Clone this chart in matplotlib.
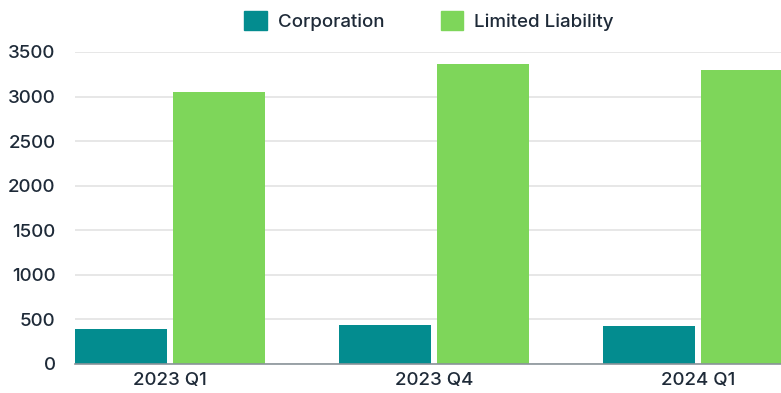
import numpy as np
import matplotlib.pyplot as plt
from matplotlib.patches import Patch

plt.rcParams['font.family'] = ['Inter', 'DejaVu Sans']
plt.rcParams['font.weight'] = 'medium'

quarters = ['2023 Q1', '2023 Q4', '2024 Q1']
corporation = [390, 440, 430]
limited_liability = [3050, 3360, 3300]

teal = '#038C8F'
green = '#7ED65A'
text_color = '#1E2A38'

fig = plt.figure(figsize=(7.81, 3.93), dpi=100)
ax = fig.add_axes([75 / 781, 29 / 393, 706 / 781, 312 / 393])

x = np.arange(len(quarters))
w = 0.348
gap = 0.023
ax.bar(x - (w + gap) / 2, corporation, w, color=teal, zorder=3)
ax.bar(x + (w + gap) / 2, limited_liability, w, color=green, zorder=3)

ax.set_xlim(-w - gap / 2, 2.314)
ax.set_ylim(0, 3500)
ax.set_yticks(np.arange(0, 3501, 500))
ax.set_xticks(x)
ax.set_xticklabels(quarters)
ax.grid(axis='y', color='#E3E3E3', linewidth=1.2, zorder=0)

for s in ['top', 'right', 'left']:
    ax.spines[s].set_visible(False)
ax.spines['bottom'].set_color('#8A9399')
ax.spines['bottom'].set_linewidth(1.2)
ax.spines['bottom'].set_zorder(4)

ax.tick_params(axis='both', length=0, labelsize=13.5, colors=text_color)
ax.tick_params(axis='y', pad=14)
ax.tick_params(axis='x', pad=6)

handles = [Patch(color=teal, label='Corporation'),
           Patch(color=green, label='Limited Liability')]
fig.legend(handles=handles, loc='center', bbox_to_anchor=(429 / 781, 1 - 21 / 393),
           ncol=2, frameon=False, fontsize=13.5, handlelength=1.2, handleheight=1.2,
           handletextpad=0.6, columnspacing=3.0, labelcolor=text_color)

fig.savefig('out.png', dpi=100)
